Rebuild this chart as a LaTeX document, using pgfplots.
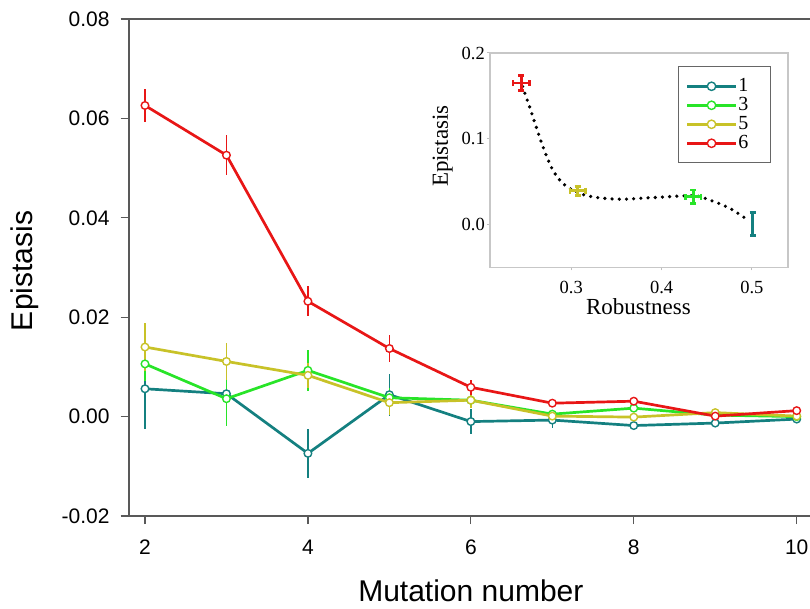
\documentclass[border=0pt]{standalone}
\usepackage{fontspec}
\setmainfont{Liberation Sans}
\newfontfamily\timesfont{Liberation Serif}
\usepackage{pgfplots}
\usepackage{pgfplotstable}
\pgfplotsset{compat=1.18}

\definecolor{cOne}{RGB}{20,128,128}
\definecolor{cThree}{RGB}{40,228,40}
\definecolor{cFive}{RGB}{200,194,40}
\definecolor{cSix}{RGB}{232,22,22}

% x, mean epistasis and error for each robustness class
\pgfplotstableread{
x   y1      e1      y3      e3      y5      e5      y6      e6
2   0.0056  0.0080  0.0106  0.0035  0.0140  0.0048  0.0626  0.0033
3   0.0046  0.0030  0.0036  0.0055  0.0111  0.0037  0.0526  0.0040
4  -0.0074  0.0050  0.0093  0.0042  0.0083  0.0025  0.0232  0.0030
5   0.0044  0.0042  0.0038  0.0020  0.0028  0.0025  0.0137  0.0027
6  -0.0010  0.0025  0.0033  0.0015  0.0033  0.0015  0.0059  0.0015
7  -0.0007  0.0015  0.0005  0.0008  0.0001  0.0008  0.0027  0.0005
8  -0.0018  0.0008  0.0017  0.0008  -0.0001 0.0008  0.0031  0.0008
9  -0.0013  0.0005  0.0003  0.0005  0.0008  0.0005  0.0001  0.0005
10 -0.0005  0.0005  0.0000  0.0005  0.0001  0.0005  0.0012  0.0005
}\maindata

\pgfplotsset{
  mainline/.style={color=#1, line width=2.7pt, mark=*, mark size=3.8pt,
    mark options={fill=white, draw=#1, line width=1.4pt},
    error bars/y dir=both, error bars/y explicit, error bars/error mark=none,
    error bars/error bar style={line width=1.3pt, color=#1}},
  cross/.style={draw=none, mark=none, forget plot,
    error bars/x dir=both, error bars/x explicit,
    error bars/y dir=both, error bars/y explicit,
    error bars/error bar style={line width=2.8pt, color=#1},
    error bars/error mark options={rotate=90, mark size=3pt, line width=2.6pt, color=#1}},
}

\begin{document}
\begin{tikzpicture}
  \useasboundingbox (0,0) rectangle (810pt,608pt);

  % main panel
  \begin{axis}[
      scale only axis,
      width=684.3pt, height=497pt,
      at={(128.7pt,92pt)}, anchor=south west,
      xmin=1.8, xmax=10.2, ymin=-0.02, ymax=0.08,
      xtick={2,4,6,8,10},
      ytick={-0.02,0,0.02,0.04,0.06,0.08},
      scaled y ticks=false,
      xtick pos=bottom, ytick pos=left,
      tick align=outside, major tick length=8pt,
      axis line style={draw=black!65, line width=1.6pt},
      tick style={draw=black!65, line width=1.2pt},
      /pgf/number format/assume math mode=true,
      ticklabel style={font=\fontsize{21}{21}\selectfont},
      yticklabel style={/pgf/number format/fixed, /pgf/number format/fixed zerofill,
        /pgf/number format/precision=2, inner sep=0pt, xshift=-11pt},
      xticklabel style={inner sep=0pt, yshift=-16pt},
      xlabel={Mutation number}, ylabel={Epistasis},
      label style={font=\fontsize{30}{30}\selectfont},
      xlabel style={at={(axis description cs:0.5,-0.173)}, anchor=base},
      ylabel style={at={(axis description cs:-0.140,0.493)}, anchor=base},
      clip=false,
    ]
    \addplot[mainline=cOne]   table[x=x, y=y1, y error=e1] {\maindata};
    \addplot[mainline=cThree] table[x=x, y=y3, y error=e3] {\maindata};
    \addplot[mainline=cFive]  table[x=x, y=y5, y error=e5] {\maindata};
    \addplot[mainline=cSix]   table[x=x, y=y6, y error=e6] {\maindata};
  \end{axis}

  % inset: epistasis against robustness
  \begin{axis}[
      scale only axis,
      width=298pt, height=214.5pt,
      at={(490pt,340.5pt)}, anchor=south west,
      xmin=0.21, xmax=0.54, ymin=-0.05, ymax=0.2,
      xtick={0.3,0.4,0.5}, ytick={0,0.1,0.2},
      xtick pos=bottom, ytick pos=left,
      tick align=outside, major tick length=3pt,
      axis background/.style={fill=white},
      axis line style={draw=black!22, line width=1.2pt},
      tick style={draw=black!25, line width=1pt},
      /pgf/number format/assume math mode=true,
      ticklabel style={font=\timesfont\fontsize{18.5}{18.5}\selectfont},
      xticklabel style={/pgf/number format/fixed, /pgf/number format/fixed zerofill,
        /pgf/number format/precision=1, inner sep=0pt, yshift=-10pt},
      yticklabel style={/pgf/number format/fixed, /pgf/number format/fixed zerofill,
        /pgf/number format/precision=1, inner sep=0pt, xshift=-2pt},
      xlabel={Robustness}, ylabel={Epistasis},
      label style={font=\timesfont\fontsize{23}{23}\selectfont},
      xlabel style={at={(axis description cs:0.498,-0.221)}, anchor=base},
      ylabel style={at={(axis description cs:-0.141,0.566)}, anchor=base},
      legend image code/.code={
        \draw[#1, mark=none] (0pt,0pt) -- (49pt,0pt);
        \draw[#1, fill=white, line width=1.4pt] (24.5pt,0pt) circle (4.2pt);
      },
      legend style={at={(axis description cs:0.631,0.939)}, anchor=north west,
        draw=black!60, line width=1.4pt, fill=white,
        inner xsep=7pt, inner ysep=10pt, row sep=0pt,
        font=\timesfont\fontsize{20}{20}\selectfont,
        nodes={inner sep=1pt, text height=14pt, text depth=3pt},
        /tikz/every even column/.append style={text width=24pt}},
      legend cell align=left,
      clip=false,
    ]
    \addplot[black, line width=3.6pt, line cap=round, dash pattern=on 0pt off 7.2pt,
      smooth, tension=0.55, forget plot] coordinates {
      (0.246,0.161) (0.2537,0.1376) (0.2611,0.114) (0.270,0.087) (0.2796,0.0635)
      (0.2907,0.048) (0.3056,0.038) (0.324,0.0323) (0.3537,0.0296) (0.3907,0.0315)
      (0.435,0.0335) (0.4537,0.0284) (0.476,0.0187) (0.496,0.005)};
    \addplot[cross=cSix] coordinates {(0.2446,0.165) +- (0.0093,0.0086)};
    \addplot[cross=cFive] coordinates {(0.307,0.0393) +- (0.0085,0.0052)};
    \addplot[cross=cThree] coordinates {(0.435,0.0323) +- (0.0085,0.0078)};
    \addplot[draw=none, mark=none, forget plot,
      error bars/y dir=both, error bars/y explicit,
      error bars/error bar style={line width=2.8pt, color=cOne},
      error bars/error mark options={rotate=90, mark size=3pt, line width=2.6pt, color=cOne}]
      coordinates {(0.5007,0.0008) +- (0,0.0133)};

    \addlegendimage{cOne, line width=2.6pt}
    \addlegendentry{1}
    \addlegendimage{cThree, line width=2.6pt}
    \addlegendentry{3}
    \addlegendimage{cFive, line width=2.6pt}
    \addlegendentry{5}
    \addlegendimage{cSix, line width=2.6pt}
    \addlegendentry{6}
  \end{axis}
\end{tikzpicture}
\end{document}
